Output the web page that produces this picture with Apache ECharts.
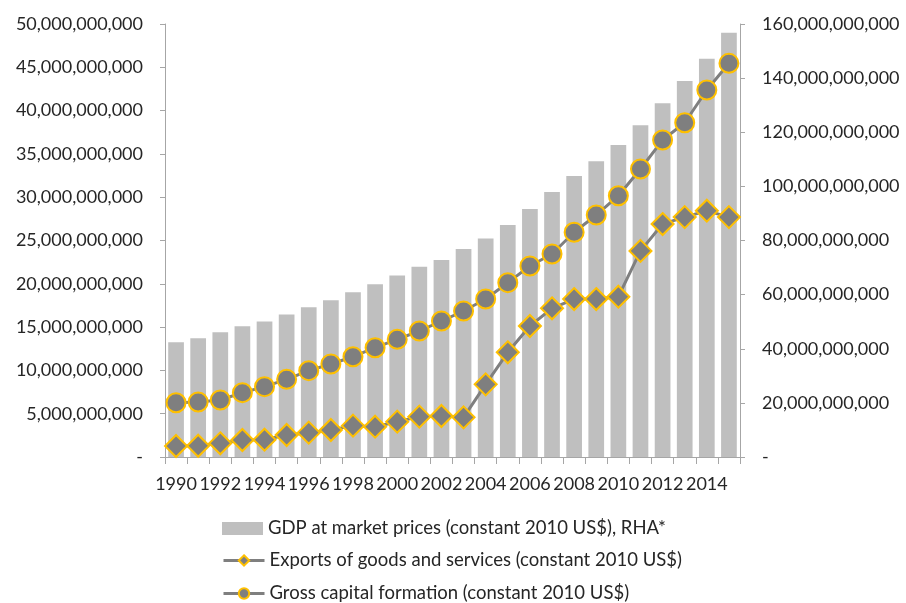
<!DOCTYPE html>
<html>
<head>
<meta charset="utf-8">
<script src="https://cdn.jsdelivr.net/npm/echarts@6/dist/echarts.min.js"></script>
<style>
  html, body { margin: 0; padding: 0; background: #fff; }
  #chart { width: 906px; height: 603px; }
</style>
</head>
<body>
<div id="chart"></div>
<script>
// Years on the category axis
const years = ['1990','1991','1992','1993','1994','1995','1996','1997','1998','1999',
  '2000','2001','2002','2003','2004','2005','2006','2007','2008','2009',
  '2010','2011','2012','2013','2014','2015'];

// GDP at market prices (constant 2010 US$), billions — right-hand axis
const gdpBn = [42.4, 43.9, 46.1, 48.3, 50.1, 52.7, 55.3, 57.9, 60.9, 63.8,
  67.1, 70.3, 72.8, 76.9, 80.7, 85.7, 91.6, 97.9, 103.8, 109.3,
  115.3, 122.6, 130.7, 138.9, 147.2, 156.8];

// Exports of goods and services (constant 2010 US$), billions — left axis
const exportsBn = [1.27, 1.3, 1.58, 1.96, 2.0, 2.54, 2.81, 3.12, 3.62, 3.5,
  4.08, 4.66, 4.73, 4.58, 8.39, 12.09, 15.13, 17.17, 18.24, 18.24,
  18.51, 23.8, 26.9, 27.7, 28.44, 27.7];

// Gross capital formation (constant 2010 US$), billions — left axis
const gcfBn = [6.27, 6.35, 6.58, 7.43, 8.12, 8.97, 9.97, 10.74, 11.58, 12.62,
  13.59, 14.55, 15.70, 16.86, 18.24, 20.13, 22.06, 23.44, 25.95, 27.94,
  30.17, 33.26, 36.6, 38.6, 42.38, 45.46];

const seriesNames = [
  'GDP at market prices (constant 2010 US$), RHA*',
  'Exports of goods and services (constant 2010 US$)',
  'Gross capital formation (constant 2010 US$)'
];

const BN = 1e9;
const FONT = 'Lato, "Open Sans", sans-serif';
const FS = 18;
const LEGEND_FS = 18.5;
const TEXT = '#262626';
const AXIS = '#a6a6a6';

function fmt(v) {
  if (v === 0) return '-';
  return Math.round(v).toLocaleString('en-US');
}

const chart = echarts.init(document.getElementById('chart'), null, { renderer: 'canvas' });

const lineMarker = {
  color: '#7f7f7f',
  borderColor: '#ffc000',
  borderWidth: 2
};

// One legend block per row, stacked under the plot
function legendRow(name, top, icon) {
  const item = icon ? { name: name, icon: icon } : { name: name };
  return {
    orient: 'vertical',
    left: 222,
    top: top,
    padding: 0,
    itemWidth: 41,
    itemHeight: 13,
    itemGap: 0,
    lineStyle: { width: 3, color: '#7f7f7f' },
    textStyle: { fontFamily: FONT, fontSize: LEGEND_FS, lineHeight: 18, color: TEXT, padding: [0, 0, 0, 0] },
    selectedMode: false,
    data: [item]
  };
}

chart.setOption({
  animation: false,
  backgroundColor: '#ffffff',
  textStyle: { fontFamily: FONT },
  grid: { left: 165, right: 166, top: 24, bottom: 146, containLabel: false },
  legend: [
    legendRow(seriesNames[0], 519, 'rect'),
    legendRow(seriesNames[1], 551, null),
    legendRow(seriesNames[2], 584, null)
  ],
  xAxis: {
    type: 'category',
    data: years,
    boundaryGap: true,
    axisLine: { show: true, lineStyle: { color: AXIS, width: 1 } },
    axisTick: { show: true, interval: 0, length: 7, lineStyle: { color: AXIS } },
    axisLabel: {
      interval: 1,
      margin: 18,
      fontFamily: FONT,
      fontSize: FS,
      color: TEXT
    },
    splitLine: { show: false }
  },
  yAxis: [
    {
      type: 'value',
      position: 'left',
      min: 0,
      max: 50 * BN,
      interval: 5 * BN,
      axisLine: { show: true, lineStyle: { color: AXIS } },
      axisTick: { show: true, inside: false, length: 5, lineStyle: { color: AXIS } },
      axisLabel: { formatter: fmt, margin: 22, fontFamily: FONT, fontSize: FS, color: TEXT },
      splitLine: { show: false }
    },
    {
      type: 'value',
      position: 'right',
      min: 0,
      max: 160 * BN,
      interval: 20 * BN,
      axisLine: { show: true, lineStyle: { color: AXIS } },
      axisTick: { show: true, inside: false, length: 5, lineStyle: { color: AXIS } },
      axisLabel: { formatter: fmt, margin: 22, fontFamily: FONT, fontSize: FS, color: TEXT },
      splitLine: { show: false }
    }
  ],
  series: [
    {
      name: seriesNames[0],
      type: 'bar',
      yAxisIndex: 1,
      data: gdpBn.map(v => v * BN),
      barCategoryGap: '29%',
      itemStyle: { color: '#bfbfbf' },
      z: 1
    },
    {
      name: seriesNames[1],
      type: 'line',
      yAxisIndex: 0,
      data: exportsBn.map(v => v * BN),
      symbol: 'diamond',
      symbolSize: 22,
      showAllSymbol: true,
      lineStyle: { color: '#7f7f7f', width: 3 },
      itemStyle: lineMarker,
      z: 3
    },
    {
      name: seriesNames[2],
      type: 'line',
      yAxisIndex: 0,
      data: gcfBn.map(v => v * BN),
      symbol: 'circle',
      symbolSize: 19,
      showAllSymbol: true,
      lineStyle: { color: '#7f7f7f', width: 3 },
      itemStyle: lineMarker,
      z: 4
    }
  ]
});
</script>
</body>
</html>
